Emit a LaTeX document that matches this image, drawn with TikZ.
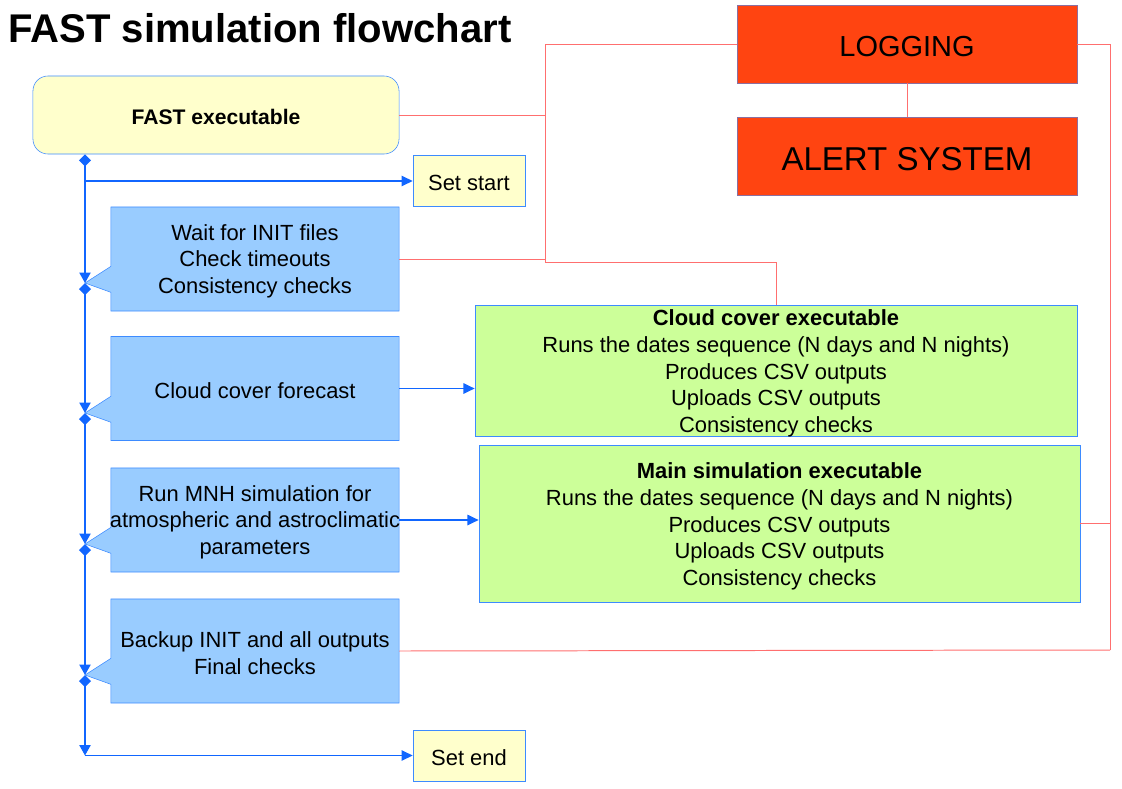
\documentclass[tikz,border=0pt]{standalone}
\usepackage{fontspec}
\setmainfont{Liberation Sans}
\usepackage{tikz}
\usetikzlibrary{shapes,shapes.callouts,arrows.meta,positioning,calc}

\definecolor{fastyellow}{HTML}{FFFFCC}
\definecolor{stepblue}{HTML}{99CCFF}
\definecolor{edgeblue}{HTML}{3D8BFF}
\definecolor{flowblue}{HTML}{1166FF}
\definecolor{logred}{HTML}{FF4411}
\definecolor{linkred}{HTML}{FF6F6F}
\definecolor{exegreen}{HTML}{CCFF99}

\begin{document}
\begin{tikzpicture}[
    x=0.025cm, y=-0.025cm,
    txt/.style={font=\fontsize{15.6}{19}\selectfont, align=center, inner sep=1pt, text height=14pt},
    lines2/.style={text height=33.5pt},
    lines3/.style={text height=52.5pt},
    lines5/.style={text height=88.3pt, text depth=0pt},
    startend/.style={txt, rectangle, draw=edgeblue, fill=fastyellow, minimum width=2.8cm, minimum height=1.275cm},
    task/.style={txt, rectangle callout, draw=edgeblue, fill=stepblue, minimum width=7.2cm, minimum height=2.6cm, callout pointer width=0.65cm},
    exe/.style={txt, lines5, rectangle, draw=edgeblue, fill=exegreen, minimum width=15.05cm},
    logbox/.style={rectangle, draw=edgeblue!60!logred, fill=logred, minimum width=8.5cm, minimum height=1.95cm},
    flow/.style={draw=flowblue, line width=1pt},
    go/.style={flow, -{Triangle[length=0.28cm,width=0.26cm]}},
    chain/.style={flow, {Diamond[length=0.3cm,width=0.3cm]}-{Triangle[length=0.26cm,width=0.28cm]}},
    logline/.style={draw=linkred, line width=0.7pt}
  ]
  \useasboundingbox (0,0) rectangle (1122,788);

  % title
  \node[anchor=base west, inner sep=0, font=\fontsize{28.5}{34}\selectfont\bfseries] (title) at (8,43) {FAST simulation flowchart};

  % main executable and its steps
  \node[txt, rectangle, rounded corners=0.375cm, draw=edgeblue, fill=fastyellow, minimum width=9.15cm, minimum height=1.95cm, font=\fontsize{15}{19}\selectfont\bfseries] (fast) at (216,115) {FAST executable};
  \node[startend] (setstart) at (469,181) {Set start};

  \coordinate (tip1) at (85,283);
  \coordinate (tip2) at (85,413);
  \coordinate (tip3) at (85,544);
  \coordinate (tip4) at (85,675);
  \coordinate (corner) at (85,755.5);

  \node[task, lines3, callout absolute pointer={(tip1)}] (wait) at (255,259) {Wait for INIT files\\Check timeouts\\Consistency checks};
  \node[task, callout absolute pointer={(tip2)}] (cloudfc) at (255,388.5) {Cloud cover forecast};
  \node[task, lines3, callout absolute pointer={(tip3)}] (mnh) at (255,520) {Run MNH simulation for\\\makebox[7cm]{atmospheric and astroclimatic}\\parameters};
  \node[task, lines2, callout absolute pointer={(tip4)}] (backup) at (255,651) {Backup INIT and all outputs\\Final checks};
  \node[startend] (setend) at (469,755.5) {Set end};

  % logging side
  \node[logbox, font=\fontsize{20.6}{24}\selectfont, text height=18.5pt] (logging) at (907,44) {LOGGING};
  \node[logbox, font=\fontsize{23.5}{28}\selectfont, text height=21.5pt] (alert) at (907,156) {ALERT SYSTEM};

  % sub executables
  \node[exe, minimum height=3.275cm] (cloud) at (776,370.5) {\textbf{Cloud cover executable}\\Runs the dates sequence (N days and N nights)\\Produces CSV outputs\\Uploads CSV outputs\\Consistency checks};
  \node[exe, minimum width=15.025cm, minimum height=3.925cm] (mainsim) at (779.5,523.5) {\textbf{Main simulation executable}\\Runs the dates sequence (N days and N nights)\\Produces CSV outputs\\Uploads CSV outputs\\Consistency checks};

  % flow
  \draw[chain] (fast.south -| tip1) -- (tip1);
  \draw[chain] (tip1) -- (tip2);
  \draw[chain] (tip2) -- (tip3);
  \draw[chain] (tip3) -- (tip4);
  \draw[chain] (tip4) -- (corner);
  \draw[go] (corner) -- (setend.west);
  \draw[go] (tip1 |- setstart) -- (setstart.west);
  \draw[go] (cloudfc.east) -- (cloudfc.east -| cloud.west);
  \draw[go] (mnh.east) -- (mnh.east -| mainsim.west);

  % logging links
  \coordinate (busL) at (545,262);
  \coordinate (busR) at (1110,650);
  \draw[logline] (logging.west) -| (busL) -| (cloud.north);
  \draw[logline] (fast.east) -- (fast.east -| busL);
  \draw[logline] (wait.east) -- (wait.east -| busL);
  \draw[logline] (logging.east) -| (busR);
  \draw[logline] (mainsim.east) -- (mainsim.east -| busR);
  \draw[logline] (backup.east) -- (busR);
  \draw[logline] (logging) -- (alert);
\end{tikzpicture}
\end{document}
